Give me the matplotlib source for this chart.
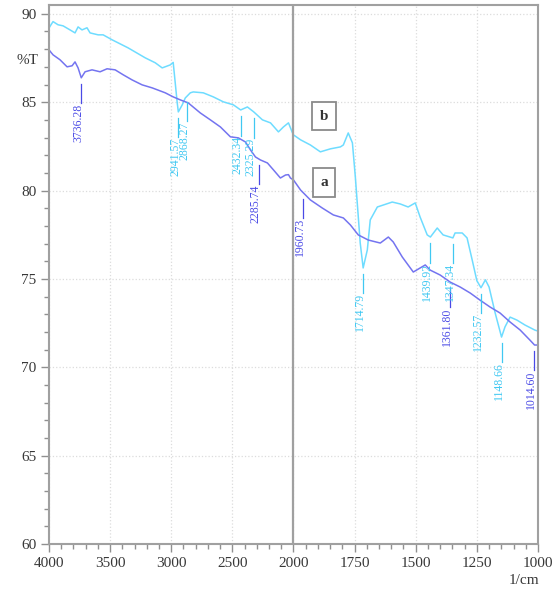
import numpy as np
import matplotlib.pyplot as plt
from matplotlib.ticker import FixedLocator
from matplotlib.transforms import offset_copy

plt.rcParams['font.family'] = ['Liberation Serif', 'DejaVu Serif']

# spectrum a (blue)
wn_a = [4000, 3967, 3910, 3852, 3811, 3787, 3762, 3736, 3705, 3648, 3582, 3525, 3459,
        3393, 3320, 3238, 3156, 3049, 2984, 2926, 2861, 2762, 2680, 2598, 2516, 2451,
        2393, 2352, 2311, 2270, 2213, 2164, 2107, 2065, 2041, 2025, 2000, 1971, 1931,
        1882, 1837, 1796, 1767, 1735, 1694, 1645, 1612, 1592, 1555, 1510, 1461, 1441,
        1400, 1359, 1318, 1277, 1237, 1196, 1155, 1114, 1073, 1033, 1014, 1000]
t_a = [87.96, 87.68, 87.40, 87.00, 87.06, 87.28, 86.94, 86.38, 86.72, 86.83, 86.72,
       86.89, 86.83, 86.55, 86.26, 85.98, 85.81, 85.53, 85.30, 85.13, 84.96, 84.39,
       84.00, 83.60, 83.04, 82.98, 82.75, 82.30, 81.90, 81.73, 81.56, 81.17, 80.71,
       80.88, 80.90, 80.71, 80.60, 80.03, 79.47, 79.01, 78.62, 78.45, 78.05, 77.49,
       77.20, 77.03, 77.37, 77.09, 76.24, 75.39, 75.79, 75.50, 75.22, 74.82, 74.54,
       74.20, 73.80, 73.41, 73.07, 72.56, 72.11, 71.54, 71.26, 71.26]

# spectrum b (cyan)
wn_b = [4000, 3967, 3926, 3885, 3828, 3787, 3762, 3730, 3689, 3664, 3598, 3557, 3484,
        3352, 3213, 3131, 3074, 3008, 2984, 2951, 2942, 2910, 2885, 2844, 2820, 2738,
        2656, 2574, 2492, 2432, 2377, 2325, 2254, 2188, 2123, 2082, 2041, 2008, 2000,
        1971, 1931, 1890, 1849, 1808, 1796, 1776, 1759, 1747, 1727, 1715, 1698, 1686,
        1657, 1596, 1563, 1531, 1502, 1482, 1453, 1440, 1412, 1388, 1348, 1339, 1310,
        1290, 1269, 1250, 1233, 1215, 1200, 1175, 1149, 1135, 1114, 1086, 1053, 1012, 1000]
t_b = [89.20, 89.56, 89.38, 89.32, 89.09, 88.92, 89.26, 89.09, 89.21, 88.92, 88.81,
       88.81, 88.53, 88.07, 87.51, 87.23, 86.94, 87.11, 87.25, 84.96, 84.45, 84.85,
       85.24, 85.53, 85.58, 85.53, 85.30, 85.02, 84.85, 84.56, 84.73, 84.45, 84.00,
       83.83, 83.32, 83.60, 83.83, 83.26, 83.15, 82.87, 82.58, 82.19, 82.36, 82.47,
       82.58, 83.26, 82.70, 80.77, 77.03, 75.62, 76.64, 78.34, 79.07, 79.35, 79.24,
       79.07, 79.30, 78.50, 77.49, 77.37, 77.88, 77.49, 77.32, 77.60, 77.60, 77.32,
       76.07, 74.90, 74.50, 74.95, 74.54, 73.07, 71.71, 72.28, 72.84, 72.67, 72.39,
       72.10, 72.05]

# peak labels: wavenumber, spectrum
peaks = [(3736.28, 'a'), (2941.57, 'b'), (2868.27, 'b'), (2432.34, 'b'), (2325.29, 'b'),
         (2285.74, 'a'), (1960.73, 'a'), (1714.79, 'b'), (1439.92, 'b'), (1347.34, 'b'),
         (1361.80, 'a'), (1232.57, 'b'), (1148.66, 'b'), (1014.60, 'a')]

x_major = [4000, 3500, 3000, 2500, 2000, 1750, 1500, 1250, 1000]
x_minor = list(range(3900, 2000, -100)) + list(range(1950, 1000, -50))

col_a, col_b = '#7474f0', '#6edcff'
txt_a, txt_b = '#4a4ae6', '#40c8f2'


def fwd(x):
    x = np.asarray(x, dtype=float)
    return np.where(x <= 2000, x, 2000 + (x - 2000) / 2)


def inv(u):
    u = np.asarray(u, dtype=float)
    return np.where(u <= 2000, u, 2000 + (u - 2000) * 2)


fig = plt.figure(figsize=(5.58, 5.93), dpi=100)
ax = fig.add_axes([0.0878, 0.0826, 0.8763, 0.909])
ax.set_xscale('function', functions=(fwd, inv))

ax.plot(wn_b, t_b, color=col_b, lw=1.1)
ax.plot(wn_a, t_a, color=col_a, lw=1.1)

# peak labels sit a little left of their tick line
lab_tr = offset_copy(ax.transData, fig=fig, x=-3, y=0, units='dots')
series = {'a': (wn_a, t_a, txt_a), 'b': (wn_b, t_b, txt_b)}
for wn, s in peaks:
    xs, ys, c = series[s]
    y0 = np.interp(wn, xs[::-1], ys[::-1])
    ax.plot([wn, wn], [y0 - 0.35, y0 - 1.45], color=c, lw=0.9)
    ax.text(wn, y0 - 1.45, f'{wn:.2f}', rotation=90, ha='center', va='top',
            fontsize=8.5, color=c, transform=lab_tr)

for lab, yy in [('b', 84.2), ('a', 80.45)]:
    ax.text(1875, yy, lab, ha='center', va='center', fontsize=11, fontweight='bold',
            color='#333333',
            bbox=dict(boxstyle='square,pad=0.5', fc='white', ec='#8a8a8a', lw=1.3))

ax.axvline(2000, color='#a0a0a0', lw=1.6)

ax.set_xlim(4000, 1000)
ax.set_ylim(60, 90.5)
ax.xaxis.set_major_locator(FixedLocator(x_major))
ax.xaxis.set_minor_locator(FixedLocator(x_minor))
ax.set_xticklabels([str(v) for v in x_major])
ax.set_yticks(range(60, 91, 5))
ax.set_yticks(range(60, 91), minor=True)
ax.grid(True, which='major', color='#dcdcdc', ls=':', lw=0.9)

for sp in ax.spines.values():
    sp.set_color('#a0a0a0')
    sp.set_linewidth(1.5)
ax.tick_params(which='major', length=6, width=1, color='#909090', labelsize=11,
               labelcolor='#383838', pad=3)
ax.tick_params(which='minor', length=3.5, width=1, color='#909090')

fig.text(27 / 558, 1 - 60 / 593, '%T', ha='center', va='center', fontsize=11,
         color='#383838')
fig.text(524 / 558, 1 - 581 / 593, '1/cm', ha='center', va='center', fontsize=11,
         color='#383838')

fig.savefig('out.png', dpi=100)
